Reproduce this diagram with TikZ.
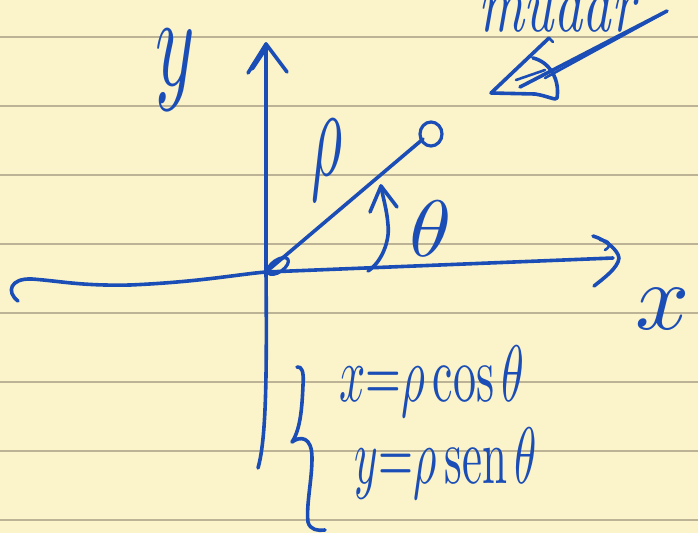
\documentclass[tikz,border=0pt]{standalone}
\usetikzlibrary{arrows.meta}
\definecolor{paper}{HTML}{FBF4CB}
\definecolor{rulec}{HTML}{BCB296}
\definecolor{ink}{HTML}{1B4DB6}
\begin{document}
\begin{tikzpicture}[x=1pt,y=-1pt,
  pen/.style={draw=ink, line width=3.6pt, line cap=round, line join=round},
  lab/.style={text=ink, inner sep=0pt, outer sep=0pt}]
\fill[paper] (0,0) rectangle (698,533);
\useasboundingbox (0,0) rectangle (698,533);
\clip (0,0) rectangle (698,533);
\foreach \yy in {37,106,175,244,313,382,451,520}
  \draw[rulec, line width=1.4pt] (0,\yy) -- (698,\yy);

% key points
\coordinate (O) at (266,272);
\coordinate (ytop) at (266,44);
\coordinate (ybot) at (258,468);
\coordinate (xstart) at (18,301);
\coordinate (xend) at (613,258);
\coordinate (P) at (423,139);

% y axis
\draw[pen] (ybot) .. controls (266,440) and (267,380) .. (O) -- (ytop);
\draw[pen] (248,73) -- (ytop) -- (287,72);
\draw[pen, line width=5pt] (252,68) -- (264,50);

% x axis
\draw[pen] (xstart) .. controls (6,292) and (10,278) .. (32,279)
  .. controls (60,281) and (80,286) .. (130,285)
  .. controls (200,282) and (240,274) .. (O) -- (xend);
\draw[pen] (593,236) .. controls (606,240) and (618,250) .. (619,258)
  .. controls (618,268) and (604,278) .. (594,286);
\draw[pen, line width=2.6pt] (600,240) .. controls (610,240) and (612,246) .. (605,250);

% rho segment
\draw[pen] (O) -- (P);
\draw[pen, line width=3.2pt] (431,134) ellipse [x radius=11, y radius=12];
\draw[pen, line width=3.2pt] (278,266) ellipse [x radius=12, y radius=6, rotate=35];

% angle arrow
\coordinate (a0) at (368,271);
\coordinate (a1) at (381,186);
\draw[pen] (a0) .. controls (382,262) and (390,240) .. (388,225)
  .. controls (387,210) and (383,198) .. (a1);
\draw[pen] (370,212) -- (a1) -- (397,207);

% brace
\draw[pen] (297,367) .. controls (302,366) and (304,372) .. (303,385)
  .. controls (302,410) and (300,430) .. (292,442)
  .. controls (300,436) and (312,436) .. (312,458)
  .. controls (312,480) and (306,505) .. (308,522)
  .. controls (310,530) and (318,531) .. (325,530);

% labels
\node[lab, xscale=7.5, yscale=13] (ylab) at (175,70) {$y$};
\node[lab, xscale=9.5, yscale=9.5] (xlab) at (663,309) {$x$};
\node[lab, xscale=6, yscale=13] (rholab) at (327,160) {$\rho$};
\node[lab, xscale=8.5, yscale=8] (thlab) at (431,229) {$\theta$};
\node[lab, xscale=4.6, yscale=8] (eq1) at (432,381) {$x{=}\rho\cos\theta$};
\node[lab, xscale=4.5, yscale=8] (eq2) at (446,463) {$y{=}\rho\,\mathrm{sen}\,\theta$};
\node[lab, anchor=base west, xscale=5.6, yscale=8, font=\itshape] (note) at (478,31) {mudar};

% arrow at top right
\draw[pen] (667,11) -- (520,87);
\draw[pen, line width=2.6pt] (664,13) -- (545,78);
\draw[pen] (549,38) -- (491,93) -- (535,94)
  .. controls (548,96) and (556,101) .. (557,98)
  .. controls (560,80) and (550,62) .. (533,58);
\draw[pen, line width=2.6pt] (549,38) -- (553,42);
\draw[pen, line width=2.6pt] (516,80) -- (545,70);
\end{tikzpicture}
\end{document}
